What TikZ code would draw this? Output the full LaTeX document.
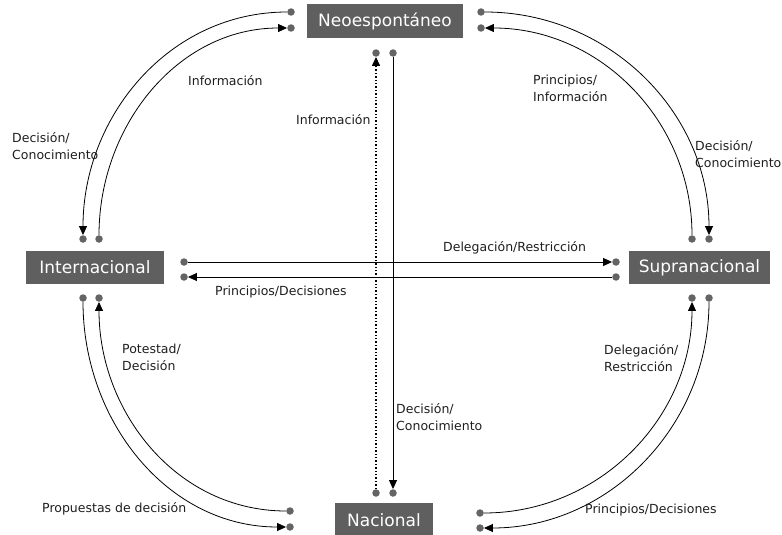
\documentclass[tikz,border=0pt]{standalone}
\usepackage{fontspec}
\setmainfont{DejaVu Sans}
\usetikzlibrary{arrows.meta}
\definecolor{boxgray}{RGB}{95,95,95}
\definecolor{dotgray}{RGB}{100,100,100}
\definecolor{txt}{RGB}{30,30,30}
\begin{document}
\begin{tikzpicture}[x=1pt,y=1pt,
  box/.style={fill=boxgray, text=white, inner sep=0pt, font=\fontsize{17}{20}\selectfont},
  dot/.style={circle, fill=dotgray, inner sep=0pt, minimum size=7.5pt},
  conn/.style={draw=black, line width=0.8pt, -{Triangle[length=9pt,width=8pt]}},
  lbl/.style={text=txt, inner sep=0pt, anchor=west, align=left, font=\fontsize{12.5}{17}\selectfont}]
\useasboundingbox (0,0) rectangle (782,-535);
% boxes
\node[box, minimum width=156pt, minimum height=34pt] (neo) at (385,-21) {Neoespontáneo};
\node[box, minimum width=138pt, minimum height=33pt] (int) at (95,-267.5) {Internacional};
\node[box, minimum width=141pt, minimum height=33pt] (sup) at (699.5,-267.5) {Supranacional};
\node[box, minimum width=98pt, minimum height=34pt] (nac) at (384,-520) {Nacional};
% dots
\node[dot] (nl1) at (291,-12) {};
\node[dot] (nl2) at (291,-28) {};
\node[dot] (nr1) at (481,-12) {};
\node[dot] (nr2) at (481,-28) {};
\node[dot] (nb1) at (376,-53) {};
\node[dot] (nb2) at (393,-53) {};
\node[dot] (it1) at (83,-239) {};
\node[dot] (it2) at (99,-239) {};
\node[dot] (ir1) at (184,-262) {};
\node[dot] (ir2) at (184,-277) {};
\node[dot] (ib1) at (83,-298) {};
\node[dot] (ib2) at (99,-298) {};
\node[dot] (st1) at (692,-239) {};
\node[dot] (st2) at (709,-239) {};
\node[dot] (sl1) at (616,-262) {};
\node[dot] (sl2) at (616,-277) {};
\node[dot] (sb1) at (692,-298) {};
\node[dot] (sb2) at (709,-298) {};
\node[dot] (nat1) at (376,-493) {};
\node[dot] (nat2) at (393,-493) {};
\node[dot] (nal1) at (290,-511) {};
\node[dot] (nal2) at (290,-527) {};
\node[dot] (nar1) at (480,-513) {};
\node[dot] (nar2) at (480,-528) {};
% connectors
\draw[conn] (nl1) to[out=180,in=90] (it1);
\draw[conn] (it2) to[out=90,in=180] (nl2);
\draw[conn] (nr1) to[out=0,in=90] (st2);
\draw[conn] (st1) to[out=90,in=0] (nr2);
\draw[conn] (ir1) -- (sl1);
\draw[conn] (sl2) -- (ir2);
\draw[conn, line width=1.4pt, dotted] (nat1) -- (nb1);
\draw[conn] (nb2) -- (nat2);
\draw[conn] (ib1) to[out=-90,in=180] (nal2);
\draw[conn] (nal1) to[out=180,in=-90] (ib2);
\draw[conn] (nar1) to[out=0,in=-90] (sb1);
\draw[conn] (sb2) to[out=-90,in=0] (nar2);
% labels
\node[lbl] (l1) at (188,-81) {Información};
\node[lbl] (l2) at (12,-146) {Decisión/\\Conocimiento};
\node[lbl] (l3) at (533,-88.5) {Principios/\\Información};
\node[lbl] (l4) at (695,-154.5) {Decisión/\\Conocimiento};
\node[lbl] (l5) at (296,-120) {Información};
\node[lbl] (l6) at (443,-248) {Delegación/Restricción};
\node[lbl] (l7) at (215,-292) {Principios/Decisiones};
\node[lbl] (l8) at (122,-357) {Potestad/\\Decisión};
\node[lbl] (l9) at (42,-509) {Propuestas de decisión};
\node[lbl] (l10) at (396,-417) {Decisión/\\Conocimiento};
\node[lbl] (l11) at (604,-358.5) {Delegación/\\Restricción};
\node[lbl] (l12) at (585,-510) {Principios/Decisiones};
\end{tikzpicture}
\end{document}
